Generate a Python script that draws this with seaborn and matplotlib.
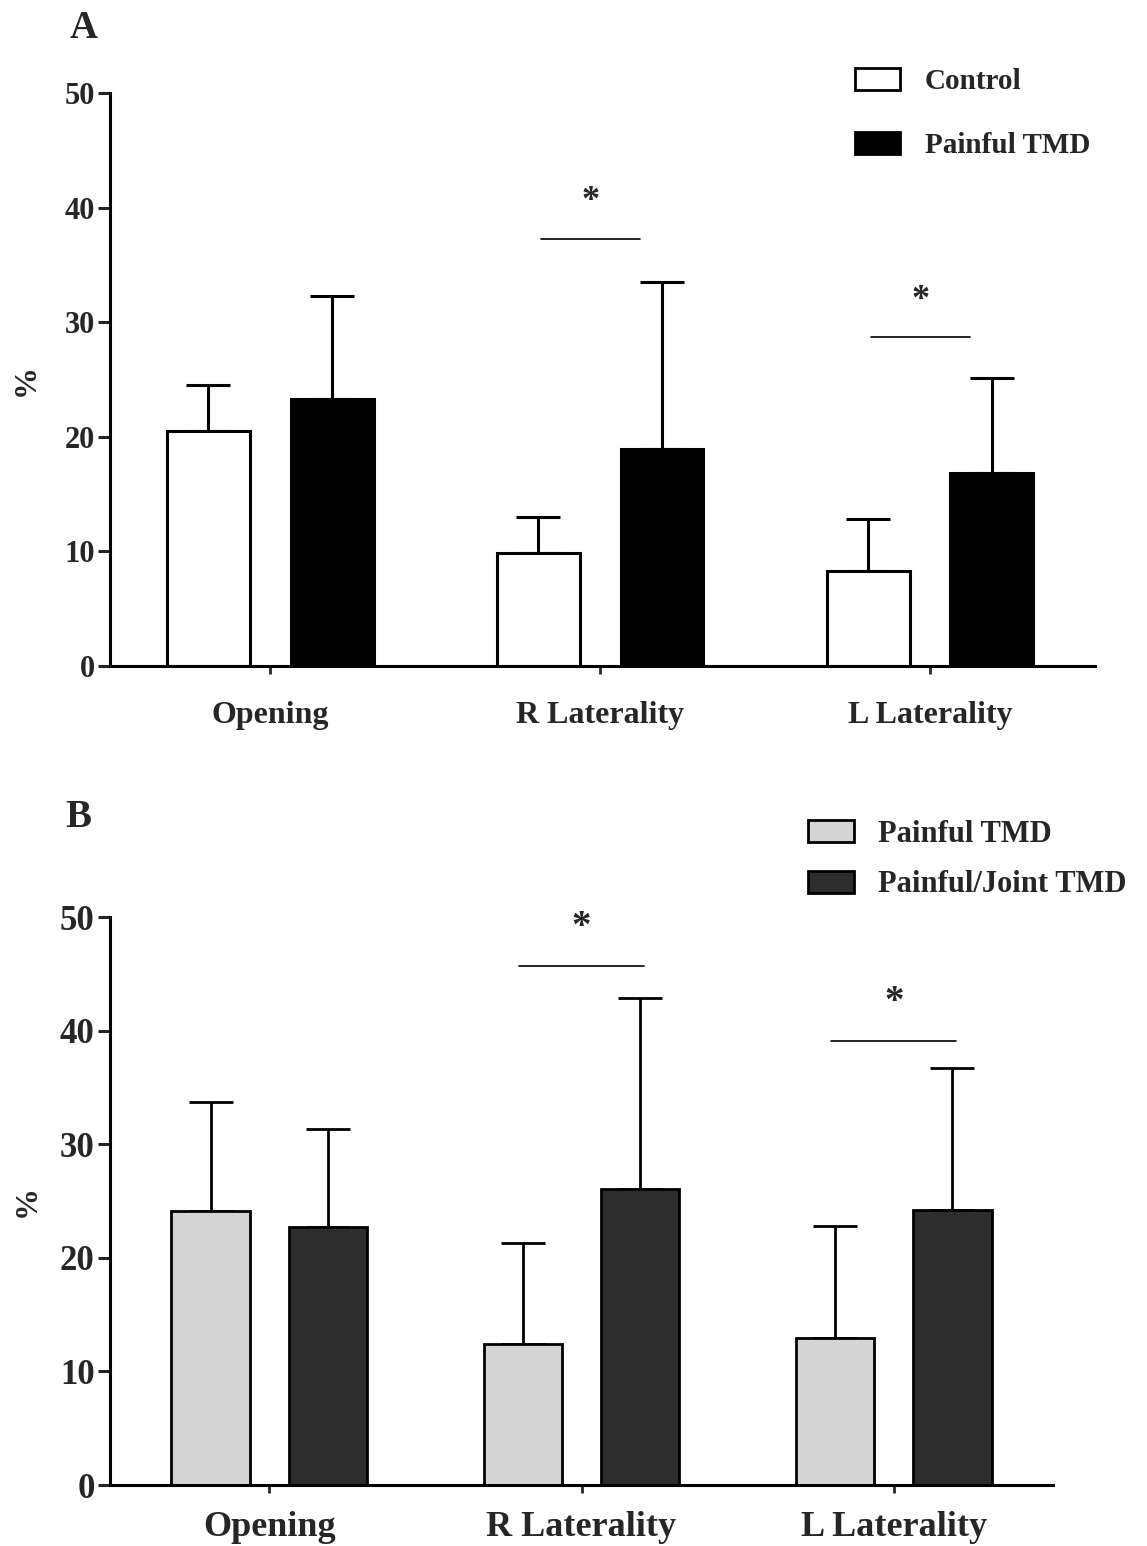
import matplotlib
matplotlib.use('Agg')
import matplotlib.pyplot as plt
import matplotlib.patches as mpatches
import pandas as pd
import seaborn as sns

movements = ['Opening', 'R Laterality', 'L Laterality']

# panel A
groups_a = ['Control', 'Painful TMD']
colors_a = ['white', 'black']
control_mean = [20.5, 9.9, 8.3]
control_sd = [4.0, 3.1, 4.5]
painful_mean = [23.3, 18.9, 16.8]
painful_sd = [9.0, 14.6, 8.3]
sig_a = [1, 2]
sig_a_y = [37.3, 28.7]

# panel B
groups_b = ['Painful TMD', 'Painful/Joint TMD']
colors_b = ['#d4d4d4', '#2d2d2d']
pain_mean = [24.1, 12.4, 12.9]
pain_sd = [9.6, 8.9, 9.9]
joint_mean = [22.7, 26.1, 24.2]
joint_sd = [8.6, 16.8, 12.5]
sig_b = [1, 2]
sig_b_y = [45.7, 39.1]

sns.set_style('white')
plt.rcParams['font.family'] = ['Liberation Serif', 'DejaVu Serif']
plt.rcParams['font.weight'] = 'bold'

fig = plt.figure(figsize=(11.47, 15.46), dpi=100)


def draw_panel(ax, groups, colors, m1, s1, m2, s2, fs_tick, fs_cat, pad_cat, lw, xlim):
    df = pd.DataFrame({
        'movement': movements * 2,
        'group': [groups[0]] * 3 + [groups[1]] * 3,
        'mean': m1 + m2,
    })
    sns.barplot(data=df, x='movement', y='mean', hue='group', hue_order=groups,
                palette=dict(zip(groups, colors)), width=0.75, gap=0.33,
                edgecolor='black', linewidth=lw, errorbar=None, legend=False,
                saturation=1, ax=ax)
    # upper error bars only
    for cont, sds in zip(ax.containers, [s1, s2]):
        for bar, e in zip(cont, sds):
            x = bar.get_x() + bar.get_width() / 2
            ax.errorbar(x, bar.get_height(), yerr=[[0], [e]], color='black',
                        capsize=16, elinewidth=lw, capthick=lw, zorder=0)
    ax.set_ylim(0, 50)
    ax.set_xlim(*xlim)
    ax.set_yticks([0, 10, 20, 30, 40, 50])
    ax.set_xlabel('')
    for s in ['top', 'right']:
        ax.spines[s].set_visible(False)
    for s in ['left', 'bottom']:
        ax.spines[s].set_linewidth(2.2)
        ax.spines[s].set_color('black')
    ax.tick_params(axis='y', direction='out', length=9, width=2.2, pad=2,
                   labelsize=fs_tick, left=True)
    ax.tick_params(axis='x', direction='out', length=6, width=2, pad=pad_cat,
                   labelsize=fs_cat, bottom=True)
    for t in ax.get_xticklabels() + ax.get_yticklabels():
        t.set_fontweight('bold')
    ax.set_ylabel('%', fontsize=23, fontweight='bold')
    return ax


ax_a = fig.add_axes([110 / 1147, 1 - 666 / 1546, 985 / 1147, 573 / 1546])
draw_panel(ax_a, groups_a, colors_a, control_mean, control_sd,
           painful_mean, painful_sd, 22, 23, 19, 2.2, (-0.486, 2.5))
ax_a.yaxis.set_label_coords(-0.07, 0.5)
for c, y in zip(sig_a, sig_a_y):
    ax_a.plot([c - 0.18, c + 0.12], [y, y], color='black', lw=1.2)
    ax_a.text(c - 0.03, y + 3.2, '*', ha='center', va='center', fontsize=26,
              fontweight='bold')
handles_a = [mpatches.Patch(facecolor=c, edgecolor='black', linewidth=2)
             for c in colors_a]
ax_a.legend(handles_a, groups_a, loc='upper left',
            bbox_to_anchor=(855 / 1147, 1 - 68 / 1546),
            bbox_transform=fig.transFigure, frameon=False, fontsize=21,
            handlelength=1.55, handleheight=0.76, handletextpad=0.85,
            labelspacing=1.28, borderpad=0, borderaxespad=0)

ax_b = fig.add_axes([110 / 1147, 1 - 1485 / 1546, 943 / 1147, 568 / 1546])
draw_panel(ax_b, groups_b, colors_b, pain_mean, pain_sd,
           joint_mean, joint_sd, 25, 26, 13, 2.0, (-0.51, 2.51))
ax_b.yaxis.set_label_coords(-0.072, 0.5)
for c, y in zip(sig_b, sig_b_y):
    ax_b.plot([c - 0.2, c + 0.2], [y, y], color='black', lw=1.2)
    ax_b.text(c, y + 3.4, '*', ha='center', va='center', fontsize=28,
              fontweight='bold')
handles_b = [mpatches.Patch(facecolor=c, edgecolor='black', linewidth=2)
             for c in colors_b]
ax_b.legend(handles_b, groups_b, loc='upper left',
            bbox_to_anchor=(808 / 1147, 1 - 820 / 1546),
            bbox_transform=fig.transFigure, frameon=False, fontsize=22,
            handlelength=1.5, handleheight=0.73, handletextpad=0.8,
            labelspacing=0.7, borderpad=0, borderaxespad=0)

fig.text(70 / 1147, 1 - 38 / 1546, 'A', fontsize=28, fontweight='bold',
         va='baseline')
fig.text(65 / 1147, 1 - 827 / 1546, 'B', fontsize=28, fontweight='bold',
         va='baseline')

fig.savefig('out.png', dpi=100, facecolor='white')
